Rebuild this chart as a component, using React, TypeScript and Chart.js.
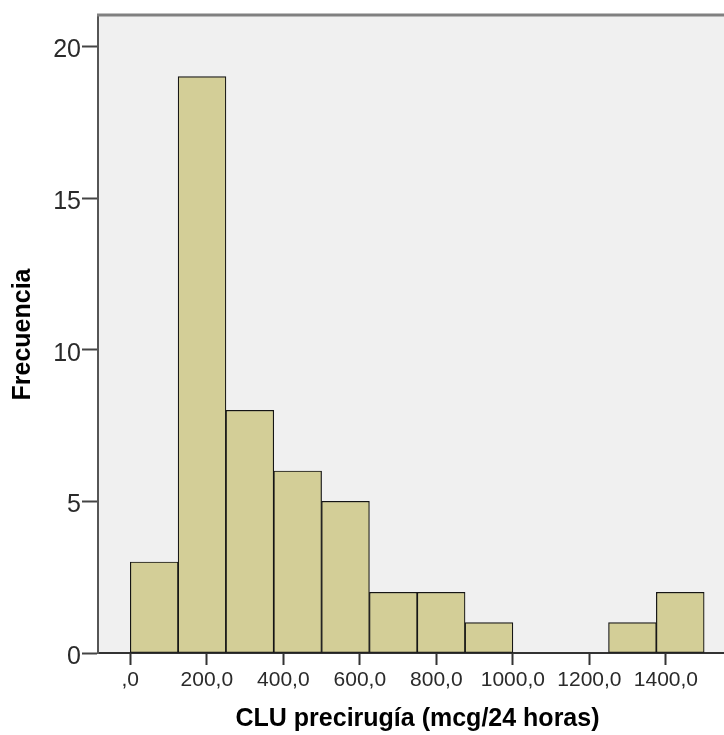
import { useEffect, useRef } from 'react';
import { Chart, registerables } from 'chart.js';

Chart.register(...registerables);

// ---- data ----
const binStarts = [0, 125, 250, 375, 500, 625, 750, 875, 1000, 1125, 1250, 1375];
const binWidth = 125;
const frequencies = [3, 19, 8, 6, 5, 2, 2, 1, 0, 0, 1, 2];
const xTickValues = [0, 200, 400, 600, 800, 1000, 1200, 1400];
const xTickLabels = [',0', '200,0', '400,0', '600,0', '800,0', '1000,0', '1200,0', '1400,0'];
const yTickValues = [0, 5, 10, 15, 20];
const xTitle = 'CLU precirugía (mcg/24 horas)';
const yTitle = 'Frecuencia';

const FONT = "'Liberation Sans', Arial, Helvetica, sans-serif";

const plotFrame = {
  id: 'plotFrame',
  beforeDraw(chart: any) {
    const { ctx, chartArea } = chart;
    const { left, top, right, bottom } = chartArea;
    ctx.save();
    ctx.fillStyle = '#f0f0f0';
    ctx.fillRect(left, top, right - left + 20, bottom - top);
    ctx.restore();
  },
  afterDraw(chart: any) {
    const { ctx, chartArea } = chart;
    const { left, top, right } = chartArea;
    ctx.save();
    ctx.strokeStyle = '#808080';
    ctx.lineWidth = 3;
    ctx.beginPath();
    ctx.moveTo(left - 1, top - 1);
    ctx.lineTo(right + 20, top - 1);
    ctx.stroke();
    ctx.restore();
  },
};

export default function App() {
  const ref = useRef<HTMLCanvasElement | null>(null);

  useEffect(() => {
    if (!ref.current) return;
    const data = binStarts.map((s, i) => ({ x: s + binWidth / 2, y: frequencies[i] }));
    const chart = new Chart(ref.current, {
      type: 'bar',
      data: {
        datasets: [
          {
            data: data as any,
            backgroundColor: '#d3ce97',
            borderColor: '#151515',
            borderWidth: 1.2,
            borderSkipped: false,
            barPercentage: 1,
            categoryPercentage: 1,
          } as any,
        ],
      },
      options: {
        animation: false,
        responsive: false,
        maintainAspectRatio: false,
        layout: { padding: { top: 16, right: 8, left: 0, bottom: 0 } },
        plugins: { legend: { display: false }, tooltip: { enabled: false } },
        scales: {
          x: {
            type: 'linear',
            min: -84.4,
            max: 1585.8,
            offset: false,
            afterBuildTicks: (s: any) => {
              s.ticks = xTickValues.map((v) => ({ value: v }));
            },
            afterFit: (s: any) => {
              s.height = 82;
              s.paddingLeft = 0;
              s.paddingRight = 0;
            },
            grid: {
              display: true,
              drawOnChartArea: false,
              drawTicks: true,
              tickLength: 12,
              tickWidth: 2,
              tickColor: '#333',
              offset: false,
            },
            border: { display: true, color: '#333', width: 2 },
            ticks: {
              padding: 3,
              color: '#2a2a2a',
              autoSkip: false,
              maxRotation: 0,
              font: { family: FONT, size: 21 },
              callback: (v: any) => {
                const i = xTickValues.indexOf(Number(v));
                return i >= 0 ? xTickLabels[i] : '';
              },
            },
            title: {
              display: true,
              text: xTitle,
              color: '#000',
              font: { family: FONT, size: 25, weight: 'bold' },
              padding: { top: 0, bottom: 1 },
            },
          },
          y: {
            type: 'linear',
            min: 0,
            max: 21,
            afterBuildTicks: (s: any) => {
              s.ticks = yTickValues.map((v) => ({ value: v }));
            },
            afterFit: (s: any) => {
              s.width = 98;
              s.paddingTop = 0;
              s.paddingBottom = 0;
            },
            grid: {
              display: true,
              drawOnChartArea: false,
              drawTicks: true,
              tickLength: 16,
              tickWidth: 2,
              tickColor: '#444',
            },
            border: { display: true, color: '#555', width: 2 },
            ticks: {
              padding: 1,
              labelOffset: 4,
              color: '#2a2a2a',
              font: { family: FONT, size: 25 },
              callback: (v: any) => String(v),
            },
            title: {
              display: true,
              text: yTitle,
              color: '#000',
              font: { family: FONT, size: 25, weight: 'bold' },
              padding: { top: 8, bottom: 0 },
            },
          },
        },
      } as any,
      plugins: [plotFrame],
    });
    return () => chart.destroy();
  }, []);

  return (
    <div
      style={{
        position: 'fixed',
        left: 0,
        top: 0,
        width: 724,
        height: 735,
        overflow: 'hidden',
        background: '#fff',
      }}
    >
      <canvas ref={ref} width={745} height={735} style={{ display: 'block' }} />
    </div>
  );
}
